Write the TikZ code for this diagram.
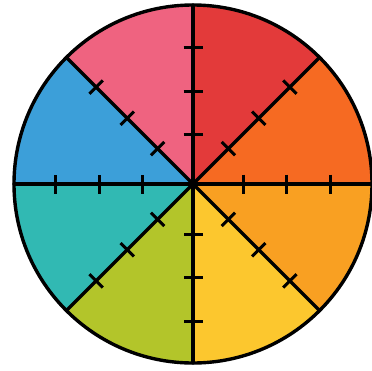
\documentclass[tikz,border=0pt]{standalone}
\usepackage{xcolor}
\definecolor{wred}{HTML}{E33A3A}
\definecolor{wflame}{HTML}{F66A22}
\definecolor{wamber}{HTML}{F9A022}
\definecolor{wyellow}{HTML}{FCC72E}
\definecolor{wlime}{HTML}{B3C52A}
\definecolor{wteal}{HTML}{31B9B3}
\definecolor{wblue}{HTML}{3C9FD9}
\definecolor{wpink}{HTML}{EF6380}

\begin{document}
\begin{tikzpicture}[x=1pt,y=1pt,
  spoke/.style={line width=3.2pt,line cap=round},
  notch/.style={line width=3pt},
  rim/.style={line width=3.4pt}]
  \useasboundingbox (-193,-186) rectangle (179,184);
  % coloured sectors
  \foreach \a/\c in {45/wred,0/wflame,-45/wamber,-90/wyellow,
                     -135/wlime,180/wteal,135/wblue,90/wpink}
    \fill[\c] (0,0) -- (\a:179) arc[start angle=\a,delta angle=45,radius=179] -- cycle;
  % spokes with notches
  \foreach \a in {0,45,...,315} {
    \draw[spoke] (0,0) -- (\a:179);
    \foreach \r in {50,93,137}
      \draw[notch] (\a:\r) ++(\a+90:9.5) -- ++(\a-90:19);
  }
  \draw[rim] (0,0) circle[radius=179];
\end{tikzpicture}
\end{document}
